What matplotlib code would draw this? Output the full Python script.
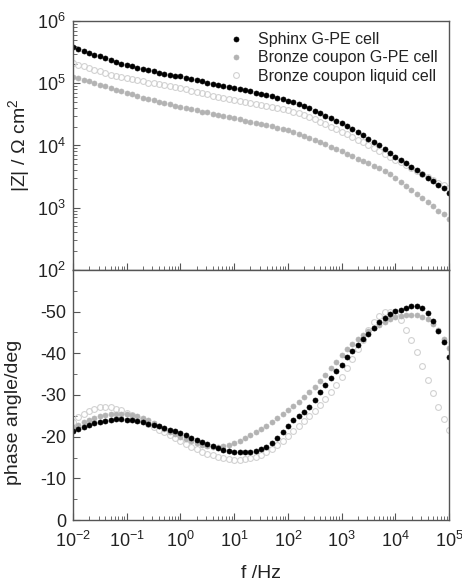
import matplotlib
matplotlib.use("Agg")
import matplotlib.pyplot as plt
import numpy as np
from matplotlib.ticker import LogLocator, MultipleLocator, NullFormatter

plt.rcParams['font.family'] = ['Liberation Sans', 'DejaVu Sans']
plt.rcParams['mathtext.default'] = 'regular'
plt.rcParams['axes.unicode_minus'] = False

# frequency grid, 10 points per decade from 1e-2 to 1e5 Hz
freq = 10 ** (np.arange(-20, 51) / 10.0)

labels = ["Sphinx G-PE cell", "Bronze coupon G-PE cell", "Bronze coupon liquid cell"]

# |Z| in ohm cm2
z_sphinx = [
    380000, 355000, 331000, 309000, 288000, 269000, 251000, 234000, 219000, 204000,
    195000, 186000, 178000, 170000, 162000, 155000, 148000, 143000, 138000, 133000,
    129000, 123000, 117500, 112000, 107000, 102000, 97700, 93300, 89100, 86100,
    83200, 79400, 76700, 74100, 70800, 67600, 64600, 61700, 58900, 55600,
    52500, 50100, 46800, 43700, 39800, 36300, 33100, 30200, 27500, 25100,
    22900, 20400, 18200, 16200, 14500, 12900, 11200, 10000, 8710, 7590,
    6610, 5890, 5130, 4470, 3980, 3470, 3020, 2690, 2340, 2040,
    1740]
z_gpe = [
    126000, 120000, 114000, 107000, 100000, 94400, 89100, 83200, 78500, 74100,
    70000, 66100, 62400, 58900, 56200, 53100, 50100, 47900, 45700, 43700,
    41700, 39800, 38000, 36700, 35100, 33900, 32400, 30900, 29900, 28500,
    27500, 26300, 25100, 24000, 22900, 22100, 21100, 20200, 19300, 18400,
    17600, 16400, 15300, 14300, 13200, 12300, 11500, 10500, 9550, 8810,
    8130, 7410, 6760, 6170, 5620, 5130, 4680, 4270, 3890, 3470,
    3020, 2630, 2260, 1950, 1680, 1450, 1240, 1060, 900, 780,
    660]
z_liquid = [
    209000, 195000, 186000, 174000, 166000, 155000, 148000, 138000, 132000, 126000,
    120000, 115000, 111000, 107000, 102000, 100000, 96600, 93300, 90200, 87100,
    83200, 79400, 75900, 72400, 69200, 66100, 63100, 60300, 58200, 56200,
    53700, 51900, 50100, 48400, 46800, 45200, 43700, 42200, 40700, 38900,
    37200, 35100, 33100, 30900, 28500, 26300, 24000, 21900, 20000, 18200,
    16600, 15100, 13600, 12300, 11200, 10000, 9120, 8130, 7330, 6610,
    5890, 5370, 4840, 4370, 3890, 3470, 3090, 2750, 2510, 2290,
    2090]

# phase angle in degrees
ph_sphinx = [
    -21.3, -21.8, -22.3, -22.8, -23.2, -23.5, -23.8, -24.0, -24.2, -24.2,
    -24.1, -23.9, -23.7, -23.4, -23.1, -22.8, -22.5, -22.1, -21.7, -21.3,
    -20.8, -20.3, -19.8, -19.3, -18.8, -18.3, -17.8, -17.3, -16.9, -16.6,
    -16.4, -16.3, -16.3, -16.3, -16.6, -17.0, -17.6, -18.6, -19.7, -21.0,
    -22.6, -23.9, -25.0, -26.0, -27.2, -28.8, -30.6, -32.3, -34.1, -35.8,
    -37.3, -39.0, -40.6, -42.0, -43.4, -44.7, -46.0, -47.4, -48.5, -49.5,
    -50.1, -50.5, -50.9, -51.3, -51.3, -50.9, -49.6, -47.7, -45.4, -42.6,
    -39.1]
ph_gpe = [
    -22.3, -22.9, -23.5, -24.0, -24.5, -24.9, -25.2, -25.4, -25.5, -25.5,
    -25.4, -25.2, -24.9, -24.4, -23.9, -23.3, -22.6, -21.9, -21.2, -20.6,
    -20.0, -19.4, -18.9, -18.5, -18.1, -17.8, -17.6, -17.6, -17.7, -18.0,
    -18.4, -18.9, -19.6, -20.3, -21.0, -21.8, -22.6, -23.5, -24.4, -25.4,
    -26.4, -27.4, -28.4, -29.5, -30.7, -32.0, -33.4, -34.9, -36.4, -38.0,
    -39.6, -41.0, -42.3, -43.4, -44.4, -45.3, -46.1, -46.9, -47.6, -48.2,
    -48.6, -48.9, -49.1, -49.2, -49.1, -48.8, -48.2, -47.1, -45.5, -43.5,
    -41.3]
ph_liquid = [
    -23.5, -24.6, -25.5, -26.2, -26.7, -27.0, -27.1, -27.0, -26.7, -26.3,
    -25.7, -25.1, -24.5, -23.8, -23.1, -22.4, -21.7, -21.0, -20.3, -19.6,
    -19.0, -18.3, -17.6, -17.0, -16.4, -15.9, -15.5, -15.1, -14.8, -14.6,
    -14.5, -14.5, -14.6, -14.8, -15.2, -15.7, -16.3, -17.1, -18.0, -19.0,
    -20.1, -21.3, -22.5, -23.7, -24.9, -26.1, -27.5, -29.0, -30.7, -32.5,
    -34.4, -36.5, -38.7, -41.0, -43.3, -45.5, -47.5, -49.0, -49.8, -50.0,
    -49.5, -48.0, -45.6, -43.2, -40.3, -36.9, -33.7, -30.5, -27.2, -24.3,
    -21.5]

fig = plt.figure(figsize=(4.62, 5.83), dpi=100)
ax1 = fig.add_axes([0.158, 0.537, 0.814, 0.427])
ax2 = fig.add_axes([0.158, 0.108, 0.814, 0.429], sharex=ax1)

sty_sphinx = dict(ls='none', marker='o', ms=3.6, mfc='black', mec='black', mew=0.5)
sty_gpe = dict(ls='none', marker='o', ms=3.6, mfc='#b3b3b3', mec='#b3b3b3', mew=0.5)
sty_liquid = dict(ls='none', marker='o', ms=4.2, mfc='none', mec='#d2d2d2', mew=0.8)

ax1.plot(freq, z_liquid, label=labels[2], **sty_liquid)
ax1.plot(freq, z_gpe, label=labels[1], **sty_gpe)
ax1.plot(freq, z_sphinx, label=labels[0], **sty_sphinx)

ax2.plot(freq, ph_liquid, **sty_liquid)
ax2.plot(freq, ph_gpe, **sty_gpe)
ax2.plot(freq, ph_sphinx, **sty_sphinx)

ax1.set_xscale('log')
ax1.set_yscale('log')
ax1.set_xlim(1e-2, 1e5)
ax1.set_ylim(1e2, 1e6)
ax2.set_ylim(0, -60)

ax1.yaxis.set_major_locator(LogLocator(base=10, numticks=10))
ax1.yaxis.set_minor_locator(LogLocator(base=10, subs=np.arange(2, 10), numticks=10))
ax1.yaxis.set_minor_formatter(NullFormatter())
ax1.xaxis.set_major_locator(LogLocator(base=10, numticks=10))
ax1.xaxis.set_minor_locator(LogLocator(base=10, subs=np.arange(2, 10), numticks=10))
ax1.xaxis.set_minor_formatter(NullFormatter())
plt.setp(ax1.get_xticklabels(), visible=False)

ax2.yaxis.set_minor_locator(MultipleLocator(5))
ax2.set_yticks([0, -10, -20, -30, -40, -50])

for ax in (ax1, ax2):
    for sp in ax.spines.values():
        sp.set_color('#555555')
        sp.set_linewidth(1.0)
    ax.tick_params(which='both', direction='in', top=False, right=False,
                   colors='#555555', labelcolor='#222222', labelsize=13)
    ax.tick_params(which='major', length=5)
    ax.tick_params(which='minor', length=3)
    ax.tick_params(axis='y', pad=5)
    ax.tick_params(axis='x', pad=8)

ax1.set_ylabel('|Z| / Ω cm$^2$', fontsize=14, color='#222222', labelpad=4)
ax2.set_ylabel('phase angle/deg', fontsize=14, color='#222222')
ax2.yaxis.set_label_coords(-0.135, 0.43)
ax2.set_xlabel('f /Hz', fontsize=14, color='#222222', labelpad=10)

handles, labs = ax1.get_legend_handles_labels()
order = [2, 1, 0]
ax1.legend([handles[i] for i in order], [labs[i] for i in order],
           loc='upper right', bbox_to_anchor=(1.0, 1.0), frameon=False,
           fontsize=11.5, labelspacing=0.2, handletextpad=0.8,
           handlelength=1.2, borderaxespad=0.3, labelcolor='#222222')

fig.savefig('out.png', dpi=100)
